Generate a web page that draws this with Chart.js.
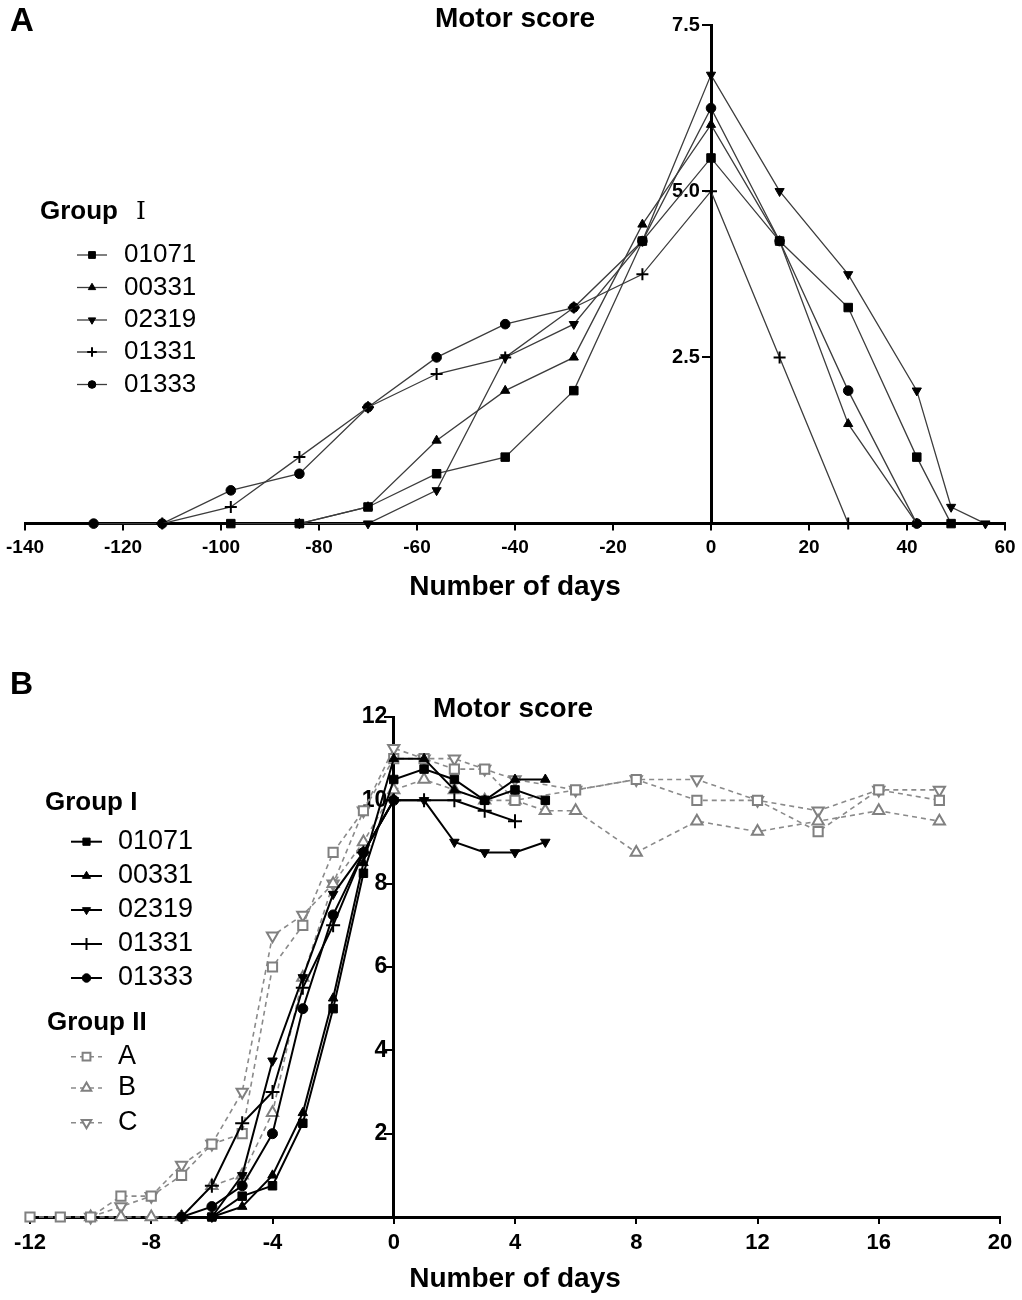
<!DOCTYPE html>
<html>
<head>
<meta charset="utf-8">
<script src="https://cdn.jsdelivr.net/npm/chart.js@4.4.1/dist/chart.umd.min.js"></script>
<style>
  body { margin: 0; background: #fff; width: 1022px; height: 1300px; position: relative; font-family: Arial, "Liberation Sans", sans-serif; }
  canvas { position: absolute; left: 0; }
  .lbl { position: absolute; font-weight: bold; white-space: nowrap; color: #000; }
  .ttl { text-align: center; width: 240px; font-size: 28px; line-height: 28px; }
</style>
</head>
<body>
<canvas id="chartA" width="1022" height="620" style="top:0"></canvas>
<canvas id="chartB" width="1022" height="680" style="top:620px"></canvas>
<div class="lbl" style="left:10px;top:3px;font-size:33px;line-height:33px">A</div>
<div class="lbl" style="left:10px;top:667px;font-size:32px;line-height:32px">B</div>
<div class="lbl ttl" style="left:395px;top:4px">Motor score</div>
<div class="lbl ttl" style="left:393px;top:694px">Motor score</div>
<script>
// ---- panel A : Group I, days around peak ----
const a01071Days = [-98, -84, -70, -56, -42, -28, -14, 0, 14, 28, 42, 49];
const a01071Score = [0, 0, 0.25, 0.75, 1, 2, 4.25, 5.5, 4.25, 3.25, 1, 0];
const a00331Days = [-84, -70, -56, -42, -28, -14, 0, 14, 28, 42];
const a00331Score = [0, 0.25, 1.25, 2, 2.5, 4.5, 6, 4.25, 1.5, 0];
const a02319Days = [-84, -70, -56, -42, -28, -14, 0, 14, 28, 42, 49, 56];
const a02319Score = [0, 0, 0.5, 2.5, 3, 4.25, 6.75, 5, 3.75, 2, 0.25, 0];
const a01331Days = [-112, -98, -84, -70, -56, -42, -28, -14, 0, 14, 28];
const a01331Score = [0, 0.25, 1, 1.75, 2.25, 2.5, 3.25, 3.75, 5, 2.5, 0];
const a01333Days = [-126, -112, -98, -84, -70, -56, -42, -28, -14, 0, 14, 28, 42];
const a01333Score = [0, 0, 0.5, 0.75, 1.75, 2.5, 3, 3.25, 4.25, 6.25, 4.25, 2, 0];

// ---- panel B : Group I (black) and Group II (grey) ----
const b01071Days = [-6, -5, -4, -3, -2, -1, 0, 1, 2, 3, 4, 5];
const b01071Score = [0, 0.5, 0.75, 2.25, 5, 8.25, 10.5, 10.75, 10.5, 10, 10.25, 10];
const b00331Days = [-6, -5, -4, -3, -2, -1, 0, 1, 2, 3, 4, 5];
const b00331Score = [0, 0.25, 1, 2.5, 5.25, 8.5, 11, 11, 10.25, 10, 10.5, 10.5];
const b02319Days = [-6, -5, -4, -3, -2, -1, 0, 1, 2, 3, 4, 5];
const b02319Score = [0, 1, 3.75, 5.75, 7.75, 8.75, 10, 10, 9, 8.75, 8.75, 9];
const b01331Days = [-7, -6, -5, -4, -3, -2, -1, 0, 1, 2, 3, 4];
const b01331Score = [0, 0.75, 2.25, 3, 5.5, 7, 8.75, 10, 10, 10, 9.75, 9.5];
const b01333Days = [-7, -6, -5, -4, -3, -2, -1, 0];
const b01333Score = [0, 0.25, 0.75, 2, 5, 7.25, 8.75, 10];
const bADays = [-12, -11, -10, -9, -8, -7, -6, -5, -4, -3, -2, -1, 0, 1, 2, 3, 4, 6, 8, 10, 12, 14, 16, 18];
const bAScore = [0, 0, 0, 0.5, 0.5, 1, 1.75, 2, 6, 7, 8.75, 9.75, 11, 11, 10.75, 10.75, 10, 10.25, 10.5, 10, 10, 9.25, 10.25, 10];
const bBDays = [-10, -9, -8, -7, -6, -5, -4, -3, -2, -1, 0, 1, 2, 3, 4, 5, 6, 8, 10, 12, 14, 16, 18];
const bBScore = [0, 0, 0, 0, 0.75, 1, 2.5, 5.75, 8, 9, 10.25, 10.5, 10.25, 10, 10, 9.75, 9.75, 8.75, 9.5, 9.25, 9.5, 9.75, 9.5];
const bCDays = [-10, -9, -8, -7, -6, -5, -4, -3, -2, -1, 0, 1, 2, 3, 4, 6, 8, 10, 12, 14, 16, 18];
const bCScore = [0, 0.25, 0.5, 1.25, 1.75, 3, 6.75, 7.25, 8, 9.75, 11.25, 11, 11, 10.75, 10.5, 10.25, 10.5, 10.5, 10, 9.75, 10.25, 10.25];

Chart.defaults.font.family = "Arial, 'Liberation Sans', sans-serif";
Chart.defaults.color = '#000';

const pts = (days, scores) => days.map((d, i) => ({ x: d, y: scores[i] }));

// one series; shape = [pointStyle, radius, rotation]
function series(label, days, scores, shape, look) {
  return {
    label: label,
    data: pts(days, scores),
    borderColor: look.line,
    borderWidth: look.width,
    borderDash: look.dash || [],
    pointStyle: shape[0],
    pointRadius: shape[1],
    pointRotation: shape[2] || 0,
    pointBackgroundColor: look.fill,
    pointBorderColor: look.mark,
    pointBorderWidth: shape[0] === 'cross' ? 2 : look.markWidth,
    tension: 0,
    clip: false
  };
}

// legend drawn on the left, read from the datasets
const sideLegend = {
  id: 'sideLegend',
  afterDraw(chart, args, opts) {
    const ctx = chart.ctx;
    ctx.save();
    ctx.textBaseline = 'middle';
    ctx.textAlign = 'left';
    ctx.fillStyle = '#000';
    opts.headers.forEach(h => {
      ctx.font = opts.headerFont;
      ctx.fillText(h.text, h.x, h.y);
      if (h.numeral) {
        ctx.font = h.numeralFont;
        ctx.fillText(h.numeral, h.numeralX, h.y);
      }
    });
    opts.rows.forEach(r => {
      const ds = chart.data.datasets[r.index];
      const mid = (opts.lineX0 + opts.lineX1) / 2;
      ctx.save();
      ctx.strokeStyle = ds.borderColor;
      ctx.lineWidth = ds.borderWidth;
      ctx.setLineDash(ds.borderDash);
      ctx.beginPath();
      ctx.moveTo(opts.lineX0, r.y);
      ctx.lineTo(opts.lineX1, r.y);
      ctx.stroke();
      ctx.setLineDash([]);
      ctx.fillStyle = ds.pointBackgroundColor;
      ctx.strokeStyle = ds.pointBorderColor;
      ctx.lineWidth = ds.pointBorderWidth;
      Chart.helpers.drawPoint(ctx, {
        pointStyle: ds.pointStyle,
        rotation: ds.pointRotation,
        radius: ds.pointRadius * opts.markerScale,
        borderWidth: ds.pointBorderWidth
      }, mid, r.y);
      ctx.restore();
      ctx.font = opts.font;
      ctx.fillText(ds.label, opts.textX, r.y);
    });
    ctx.restore();
  }
};

function axes(xMin, xMax, xStep, xFont, yMax, yStep, yFont, yFmt, tickPad, titlePad) {
  return {
    x: {
      type: 'linear', min: xMin, max: xMax,
      ticks: { stepSize: xStep, autoSkip: false, maxRotation: 0, padding: tickPad, font: { size: xFont, weight: 'bold' } },
      grid: { drawOnChartArea: false, color: '#000', lineWidth: 2, tickLength: 7 },
      border: { color: '#000', width: 3 },
      title: { display: true, text: 'Number of days', padding: { top: titlePad, bottom: 0 }, font: { size: 28, weight: 'bold' } }
    },
    y: {
      type: 'linear', min: 0, max: yMax, position: { x: 0 },
      ticks: { stepSize: yStep, font: { size: yFont, weight: 'bold' }, callback: v => v === 0 ? '' : yFmt(v) },
      grid: { drawOnChartArea: false, color: '#000', lineWidth: 2, tickLength: 8 },
      border: { color: '#000', width: 3 }
    }
  };
}

const lookA = { line: '#3c3c3c', width: 1.3, fill: '#000', mark: '#000', markWidth: 1 };

new Chart(document.getElementById('chartA'), {
  type: 'line',
  data: {
    datasets: [
      series('01071', a01071Days, a01071Score, ['rect', 6], lookA),
      series('00331', a00331Days, a00331Score, ['triangle', 5.3], lookA),
      series('02319', a02319Days, a02319Score, ['triangle', 5.3, 180], lookA),
      series('01331', a01331Days, a01331Score, ['cross', 6], lookA),
      series('01333', a01333Days, a01333Score, ['circle', 4.8], lookA)
    ]
  },
  options: {
    responsive: false,
    animation: false,
    events: [],
    layout: { padding: { left: 25, right: 17, top: 25, bottom: 16 } },
    plugins: {
      legend: { display: false },
      tooltip: { enabled: false },
      sideLegend: {
        headers: [{ text: 'Group', x: 40, y: 212, numeral: 'Ⅰ', numeralX: 136, numeralFont: "25px 'DejaVu Serif', 'Liberation Serif', 'Noto Sans CJK JP'" }],
        headerFont: "bold 26px Arial, 'Liberation Sans'",
        font: "26px Arial, 'Liberation Sans'",
        rows: [{ index: 0, y: 255 }, { index: 1, y: 287.5 }, { index: 2, y: 320 }, { index: 3, y: 352 }, { index: 4, y: 384.5 }],
        lineX0: 77, lineX1: 107, textX: 124, markerScale: 0.8
      }
    },
    scales: axes(-140, 60, 20, 19, 7.5, 2.5, 20, v => v.toFixed(1) + '  ', 6, 5)
  },
  plugins: [sideLegend]
});

const lookBI = { line: '#000', width: 2, fill: '#000', mark: '#000', markWidth: 1 };
const lookBII = { line: '#8a8a8a', width: 1.6, dash: [5, 4], fill: '#fff', mark: '#808080', markWidth: 2 };

new Chart(document.getElementById('chartB'), {
  type: 'line',
  data: {
    datasets: [
      series('01071', b01071Days, b01071Score, ['rect', 6], lookBI),
      series('00331', b00331Days, b00331Score, ['triangle', 5.5], lookBI),
      series('02319', b02319Days, b02319Score, ['triangle', 5.5, 180], lookBI),
      series('01331', b01331Days, b01331Score, ['cross', 7], lookBI),
      series('01333', b01333Days, b01333Score, ['circle', 5], lookBI),
      series('A', bADays, bAScore, ['rect', 6.5], lookBII),
      series('B', bBDays, bBScore, ['triangle', 6.5], lookBII),
      series('C', bCDays, bCScore, ['triangle', 6.5, 180], lookBII)
    ]
  },
  options: {
    responsive: false,
    animation: false,
    events: [],
    layout: { padding: { left: 30, right: 22, top: 97, bottom: 4 } },
    plugins: {
      legend: { display: false },
      tooltip: { enabled: false },
      sideLegend: {
        headers: [{ text: 'Group I', x: 45, y: 182.5 }, { text: 'Group II', x: 47, y: 402.5 }],
        headerFont: "bold 26px Arial, 'Liberation Sans'",
        font: "27px Arial, 'Liberation Sans'",
        rows: [{ index: 0, y: 221.7 }, { index: 1, y: 256 }, { index: 2, y: 290 }, { index: 3, y: 324 }, { index: 4, y: 358 },
               { index: 5, y: 436.7 }, { index: 6, y: 468 }, { index: 7, y: 502.7 }],
        lineX0: 71, lineX1: 102, textX: 118, markerScale: 0.85
      }
    },
    scales: axes(-12, 20, 4, 22, 12, 2, 23, v => String(v) + ' ', 6, 0)
  },
  plugins: [sideLegend]
});
</script>
</body>
</html>
